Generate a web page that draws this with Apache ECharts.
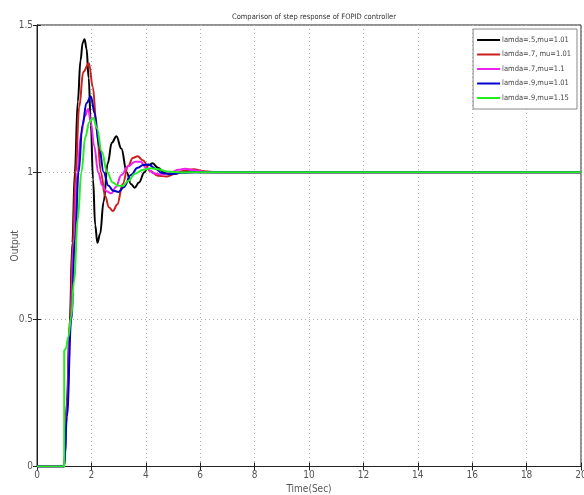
<!DOCTYPE html>
<html>
<head>
<meta charset="utf-8">
<script src="https://cdn.jsdelivr.net/npm/echarts@6/dist/echarts.min.js"></script>
<style>html,body{margin:0;padding:0;background:#fff}#c{width:584px;height:495px}</style>
</head>
<body>
<div id="c"></div>
<script>
var titleText = 'Comparison of step response of FOPID controller';
var xName = 'Time(Sec)';
var yName = 'Output';
var seriesNames = ['lamda=.5,mu=1.01', 'lamda=.7, mu=1.01', 'lamda=.7,mu=1.1', 'lamda=.9,mu=1.01', 'lamda=.9,mu=1.15'];
var seriesColors = ['#000000', '#cc1f1f', '#ee22ee', '#0000cc', '#22ee22'];

var blackData = [[0,0],[1.0,0],[1.1,0.22],[1.2,0.48],[1.3,0.76],[1.39,1.0],[1.5,1.24],[1.6,1.38],[1.68,1.44],[1.75,1.452],[1.82,1.42],[1.9,1.32],[1.98,1.16],[2.06,0.975],[2.14,0.82],[2.22,0.76],[2.32,0.79],[2.45,0.90],[2.6,1.03],[2.75,1.10],[2.92,1.122],[3.1,1.08],[3.3,1.0],[3.45,0.96],[3.59,0.947],[3.75,0.965],[3.95,1.0],[4.1,1.024],[4.25,1.03],[4.45,1.015],[4.7,0.997],[5.0,0.994],[5.4,1.002],[6.0,1.0],[20,1.0]];
var redData = [[0,0],[1.0,0],[1.1,0.2],[1.22,0.5],[1.32,0.76],[1.42,1.0],[1.55,1.22],[1.7,1.34],[1.91,1.37],[2.05,1.29],[2.2,1.14],[2.35,1.0],[2.5,0.92],[2.65,0.88],[2.79,0.868],[2.95,0.89],[3.15,0.96],[3.35,1.02],[3.52,1.048],[3.7,1.054],[3.9,1.04],[4.15,1.005],[4.45,0.988],[4.75,0.985],[5.1,0.995],[5.45,1.006],[5.75,1.01],[6.15,1.003],[6.6,1.0],[20,1.0]];
var magentaData = [[0,0],[1.0,0],[1.1,0.19],[1.24,0.5],[1.36,0.76],[1.48,1.0],[1.62,1.13],[1.76,1.19],[1.88,1.215],[1.98,1.17],[2.1,1.09],[2.25,1.0],[2.4,0.955],[2.55,0.935],[2.73,0.928],[2.9,0.95],[3.1,0.99],[3.35,1.02],[3.6,1.035],[3.8,1.035],[4.05,1.012],[4.3,0.996],[4.6,0.992],[4.95,1.0],[5.2,1.008],[5.45,1.012],[5.8,1.006],[6.3,1.0],[20,1.0]];
var blueData = [[0,0],[1.0,0],[1.1,0.17],[1.26,0.5],[1.4,0.77],[1.53,1.0],[1.67,1.16],[1.82,1.235],[1.98,1.257],[2.12,1.2],[2.28,1.09],[2.45,1.0],[2.62,0.955],[2.8,0.937],[3.0,0.933],[3.2,0.95],[3.45,0.99],[3.7,1.015],[3.9,1.024],[4.1,1.026],[4.35,1.012],[4.6,0.997],[4.9,0.993],[5.3,0.998],[6.0,1.0],[20,1.0]];
var greenData = [[0,0],[1.0,0],[1.0,0.394],[1.06,0.40],[1.15,0.44],[1.26,0.51],[1.36,0.63],[1.5,0.84],[1.63,1.0],[1.78,1.12],[1.92,1.17],[2.07,1.184],[2.2,1.15],[2.38,1.07],[2.58,1.0],[2.78,0.965],[2.98,0.954],[3.15,0.953],[3.35,0.97],[3.6,0.995],[3.9,1.008],[4.2,1.013],[4.45,1.01],[4.8,1.002],[5.3,0.999],[6.0,1.0],[20,1.0]];
var allData = [blackData, redData, magentaData, blueData, greenData];

var fam = '"Liberation Sans Narrow", "DejaVu Sans Condensed", "Arial Narrow", "Liberation Sans", sans-serif';
var labelFont = {color: '#555', fontSize: 10, fontFamily: fam};
var chart = echarts.init(document.getElementById('c'));
var series = seriesNames.map(function (n, i) {
  return {
    name: n, type: 'line', data: allData[i], showSymbol: false, symbol: 'none',
    smooth: 0.4, smoothMonotone: 'x',
    lineStyle: {color: seriesColors[i], width: 2}, itemStyle: {color: seriesColors[i]},
    z: 2 + i
  };
});
chart.setOption({
  animation: false,
  backgroundColor: '#fff',
  title: {text: titleText, left: 309, top: 8, textAlign: 'center',
    textStyle: {fontSize: 7.5, fontWeight: 'normal', color: '#333', fontFamily: fam}},
  legend: {
    orient: 'vertical', right: 7, top: 29, data: seriesNames,
    icon: 'rect', itemWidth: 23, itemHeight: 2, itemGap: 4.5,
    padding: [6, 6, 6, 4], borderColor: '#888', borderWidth: 1, backgroundColor: '#fff',
    textStyle: {color: '#444', fontSize: 7.5, lineHeight: 10, padding: [0, 0, 0, -3], fontFamily: fam}
  },
  grid: {left: 37, right: 3, top: 25, bottom: 28.5, show: true, borderColor: '#222', borderWidth: 1, outerBoundsMode: 'none', containLabel: false},
  xAxis: [{
    type: 'value', min: 0, max: 20, interval: 2,
    name: xName, nameLocation: 'middle', nameGap: 18, nameMoveOverlap: false, nameTextStyle: labelFont,
    axisLine: {show: true, lineStyle: {color: '#222'}},
    axisTick: {show: true, inside: true, length: 4, lineStyle: {color: '#222'}},
    axisLabel: Object.assign({margin: 4}, labelFont),
    splitLine: {show: true, lineStyle: {color: '#b0b0b0', type: [1, 3], width: 1}}
  }, {
    type: 'value', min: 0, max: 20, interval: 2, position: 'top',
    axisLine: {show: true, lineStyle: {color: '#222'}},
    axisTick: {show: true, inside: true, length: 4, lineStyle: {color: '#222'}},
    axisLabel: {show: false}, splitLine: {show: false}
  }],
  yAxis: [{
    type: 'value', min: 0, max: 1.5, interval: 0.5,
    name: yName, nameLocation: 'middle', nameGap: 17, nameMoveOverlap: false, nameRotate: 90, nameTextStyle: labelFont,
    axisLine: {show: true, lineStyle: {color: '#222'}},
    axisTick: {show: true, inside: true, length: 4, lineStyle: {color: '#222'}},
    axisLabel: Object.assign({margin: 4}, labelFont),
    splitLine: {show: true, lineStyle: {color: '#b0b0b0', type: [1, 3], width: 1}}
  }, {
    type: 'value', min: 0, max: 1.5, interval: 0.5, position: 'right',
    axisLine: {show: true, lineStyle: {color: '#222'}},
    axisTick: {show: true, inside: true, length: 4, lineStyle: {color: '#222'}},
    axisLabel: {show: false}, splitLine: {show: false}
  }],
  series: series
});
</script>
</body>
</html>
